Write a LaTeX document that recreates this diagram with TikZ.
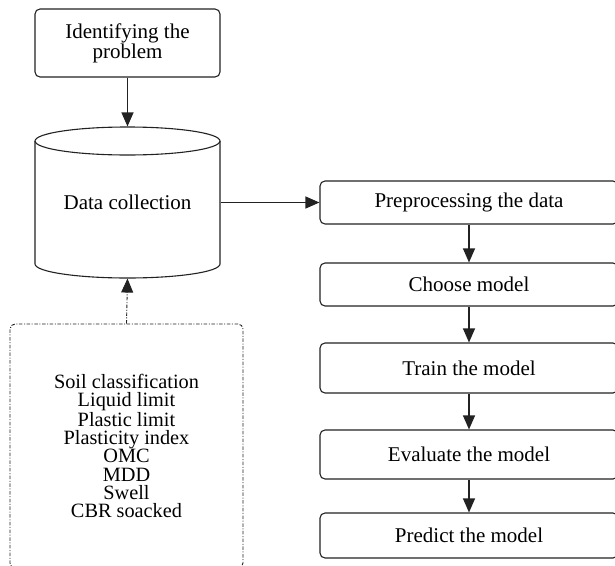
\documentclass[tikz,border=0pt]{standalone}
\usepackage{fontspec}
\setmainfont{Liberation Serif}
\usetikzlibrary{arrows.meta}
\begin{document}
\begin{tikzpicture}[x=1pt,y=1pt,
  line width=1.1pt, draw={rgb,255:red,34;green,34;blue,34},
  box/.style={draw, rounded corners=5pt, align=center, inner sep=0pt,
    font=\fontsize{21}{17.5}\selectfont},
  rbox/.style={box, minimum width=298pt},
  arr/.style={-{Triangle[length=14pt,width=12pt]}},
  dd/.style={dash pattern=on 3.5pt off 1.6pt on 1pt off 1.6pt, line width=0.9pt}
]
\useasboundingbox (0,0) rectangle (615,-565);
% left column
\node[box, minimum width=185pt, minimum height=68pt] (id) at (127.5,-43) {Identifying the\\problem};
\node[inner sep=0pt, minimum width=185pt, minimum height=151pt,
  font=\fontsize{21}{21}\selectfont] (dc) at (127.5,-202.5) {Data collection};
% cylinder
\draw (35,-141) -- (35,-264) arc[start angle=180,end angle=360,x radius=92.5pt,y radius=14pt] -- (220,-141);
\draw (127.5,-141) ellipse [x radius=92.5pt, y radius=14pt];
\node[box, dd, minimum width=233pt, minimum height=244pt,
  font=\fontsize{20.3}{18.3}\selectfont] (par) at (126.5,-446)
  {Soil classification\\Liquid limit\\Plastic limit\\Plasticity index\\OMC\\MDD\\Swell\\CBR soacked};
% right column
\node[rbox, minimum height=43pt] (pre) at (469,-202.5) {Preprocessing the data};
\node[rbox, minimum height=43pt] (cho) at (469,-284.5) {Choose model};
\node[rbox, minimum height=50pt] (tra) at (469,-368) {Train the model};
\node[rbox, minimum height=49pt] (eva) at (469,-454.5) {Evaluate the model};
\node[rbox, minimum height=45pt] (pred) at (469,-535.5) {Predict the model};
% connectors
\draw[arr] (id.south) -- (dc.north);
\draw[arr] (dc.east) -- (pre.west);
\draw[arr, dd] (par.north) -- (dc.south);
\draw[arr] (pre.south) -- (cho.north);
\draw[arr] (cho.south) -- (tra.north);
\draw[arr] (tra.south) -- (eva.north);
\draw[arr] (eva.south) -- (pred.north);
\end{tikzpicture}
\end{document}
